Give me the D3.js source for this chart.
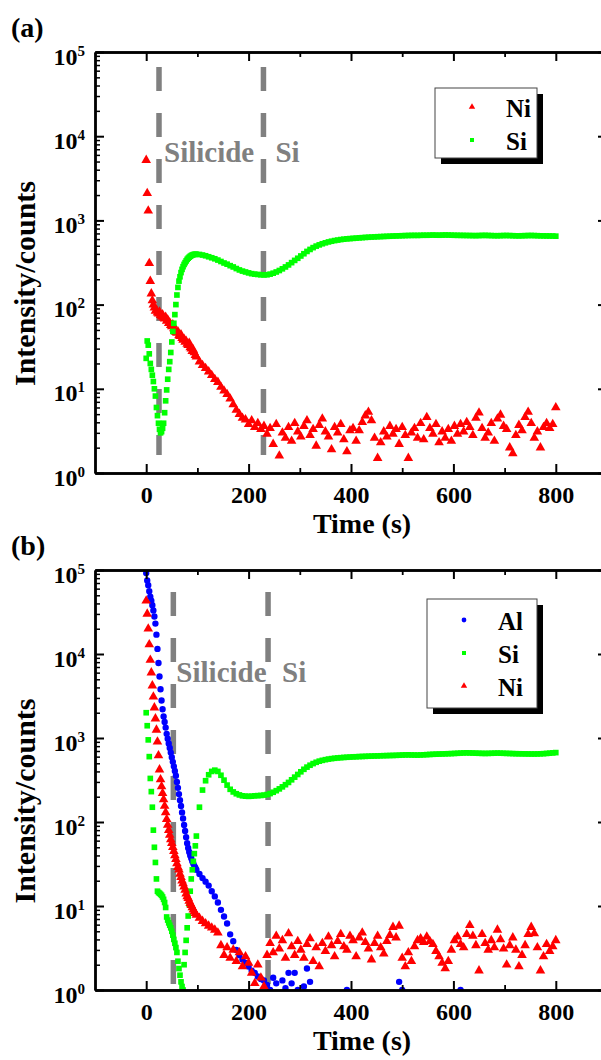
<!DOCTYPE html>
<html>
<head>
<meta charset="utf-8">
<script src="https://cdn.jsdelivr.net/npm/d3@7"></script>
<style>
  body { margin: 0; background: #fff; }
  svg text { font-family: "Liberation Serif", "Times New Roman", serif; font-weight: bold; }
</style>
</head>
<body>
<svg id="chart" width="601" height="1060"></svg>
<script>
// sample times (s): 2 s steps at the start, 6 s afterwards
var timeEarly = d3.range(0, 100, 2);
var timeLate = d3.range(104, 801, 6);
var times = timeEarly.concat(timeLate);

var xTicks = [0, 200, 400, 600, 800];
var xMinorTicks = [100, 300, 500, 700];
var yTicks = [1, 10, 100, 1000, 10000, 100000];

// ---- panel (a) ----
var niA = [5200, 2100, 1300, 310, 190, 135, 112, 100, 92, 84,
  86, 80, 78, 82, 75, 72, 76, 70, 68, 71,
  64, 66, 60, 61, 57, 55, 58, 52, 50, 47,
  46, 48, 43, 42, 44, 40, 38, 39, 36, 37,
  34, 33, 35, 31, 30, 28, 29, 27, 25, 24,
  21, 19, 17.5, 16, 14.5, 13, 12, 10.5, 9.5, 8.6,
  7.6, 6.5, 5.6, 5.0, 4.5, 4.3, 3.8, 4.2, 3.5, 3.9,
  3.3, 3.6, 2.9, 3.4, 2.2, 3.8, 1.6, 3.0, 2.6, 3.5,
  2.4, 3.9, 3.1, 2.7, 3.6, 4.2, 2.8, 3.3, 2.1, 3.7,
  4.4, 3.1, 2.7, 1.9, 3.5, 3.0, 3.8, 2.5, 1.8, 3.2,
  3.4, 2.4, 3.2, 4.0, 4.8, 5.3, 4.2, 2.6, 1.5, 2.3,
  3.1, 2.7, 3.6, 2.9, 3.3, 2.2, 3.5, 2.8, 1.5, 3.0,
  3.4, 2.6, 3.9, 2.5, 4.6, 3.4, 2.9, 3.8, 2.3, 3.1,
  2.6, 3.3, 2.4, 3.6, 2.9, 3.8, 3.1, 4.0, 3.5, 2.8,
  4.5, 5.2, 3.4, 2.6, 3.0, 3.9, 2.4, 4.4, 4.9, 3.6,
  3.3, 2.0, 1.7, 2.8, 3.7, 3.2, 4.6, 5.3, 3.9, 2.6,
  3.1, 2.0, 3.5, 3.9, 3.4, 3.8, 6.0];
var siA = [23, 37, 33, 26, 20, 17, 14.5, 12.2, 10, 8.2,
  6.0, 4.8, 3.9, 3.3, 3.0, 3.1, 3.4, 3.9, 5.2, 7.2,
  9.7, 13, 17, 21, 27, 36, 48, 60, 76, 100,
  130, 160, 190, 214, 240, 262, 282, 300, 315, 330,
  345, 356, 366, 375, 382, 388, 392, 395, 396, 396,
  394, 388, 380, 370, 360, 350, 338, 325, 312, 302,
  290, 280, 268, 258, 250, 244, 238, 233, 230, 228,
  226, 225, 226, 230, 236, 244, 254, 266, 280, 296,
  315, 335, 355, 378, 402, 428, 452, 475, 495, 512,
  528, 542, 555, 566, 576, 584, 592, 598, 604, 608,
  612, 616, 620, 624, 628, 631, 634, 637, 640, 642,
  645, 647, 649, 652, 654, 656, 658, 660, 662, 663,
  664, 663, 665, 667, 666, 668, 670, 668, 667, 669,
  671, 670, 668, 666, 665, 664, 663, 662, 661, 660,
  659, 661, 663, 664, 662, 660, 658, 657, 659, 661,
  662, 660, 658, 656, 655, 657, 659, 661, 662, 660,
  658, 656, 655, 654, 653, 652, 650];
var boundariesA = [25, 229];

// ---- panel (b) ----
var alB = [92000, 75000, 66000, 56000, 48000, 43000, 38000, 33000, 28000, 23000,
  17000, 11500, 7800, 5400, 3800, 2800, 2200, 1800, 1550, 1330,
  1120, 980, 860, 760, 670, 590, 520, 460, 405, 355,
  300, 255, 215, 182, 155, 130, 110, 92, 78, 66,
  56, 49, 44, 40, 37, 34, 32, 30, 28.5, 27,
  24, 21.5, 19.5, 17.5, 15, 13, 11, 9, 7.5, 6.2,
  4.6, 3.8, 3.0, 2.6, 2.3, 2.1, 1.9, 1.7, 1.6, 1.45,
  1.35, 1.3, 1.15, 1.0, 1.4, 1.2, 0.9, 1.3, 1.05, 1.6,
  1.2, 1.6, 1.0, 0.8, 1.1, 1.8, 1.25, 0.8, 0.7, 0.6,
  0.5, 0.6, 0.5, 0.5, 0.6, 0.5, 0.5, 0.6, 1.0, 0.5,
  0.5, 0.5, 0.5, 0.5, 0.5, 0.5, 0.5, 0.5, 0.5, 0.5,
  0.5, 0.5, 0.5, 0.6, 0.5, 1.25, 1.0, 0.5, 0.5, 0.5,
  0.5, 0.5, 0.5, 0.5, 0.5, 0.5, 0.5, 0.5, 0.5, 0.5,
  0.5, 0.5, 0.5, 0.5, 0.6, 1.0, 0.5, 0.5, 0.5, 0.5,
  0.5, 0.5, 0.5, 0.5, 0.5, 0.5, 0.5, 0.5, 0.5, 0.5,
  0.5, 0.5, 0.5, 0.5, 0.5, 0.5, 0.5, 0.5, 0.5, 0.5,
  0.5, 0.5, 0.5, 0.5, 0.5, 0.5, 0.5];
var siB = [2000, 1400, 950, 600, 330, 230, 150, 80, 50, 33,
  21, 15, 14.5, 14.2, 13.8, 13.4, 12.8, 12, 11, 9.6,
  7.4, 6.8, 6.3, 5.9, 5.5, 5.0, 4.5, 4.0, 3.6, 3.2,
  2.8, 2.2, 1.8, 1.5, 1.25, 1.1, 1.0, 2.0, 2.8, 3.9,
  5.5, 7.6, 10.5, 15, 21, 27, 34, 42, 52, 68,
  150, 240, 310, 365, 400, 414, 400, 360, 315, 275,
  245, 228, 217, 210, 205, 203, 202, 203, 205, 206,
  207, 209, 212, 218, 226, 236, 248, 262, 278, 296,
  318, 342, 368, 396, 424, 450, 474, 496, 514, 530,
  542, 552, 561, 568, 574, 579, 583, 587, 590, 593,
  596, 598, 601, 603, 605, 607, 609, 611, 612, 614,
  616, 617, 619, 620, 622, 624, 627, 629, 630, 628,
  627, 626, 628, 631, 634, 637, 640, 642, 644, 646,
  648, 650, 652, 655, 658, 661, 664, 666, 664, 662,
  660, 658, 656, 655, 656, 658, 660, 662, 660, 658,
  656, 654, 652, 650, 649, 648, 647, 646, 645, 645,
  646, 648, 651, 655, 660, 665, 670];
var niB = [43000, 30000, 20000, 13000, 8500, 6000, 4200, 3100, 2300, 1700,
  1250, 900, 620, 420, 320, 265, 220, 185, 155, 130,
  108, 92, 80, 70, 62, 56, 50, 45, 40, 36,
  32, 29, 27, 24, 22, 20, 18.5, 17, 15.5, 14,
  13, 12.4, 11.5, 10.8, 10.2, 9.6, 9.0, 8.6, 8.2, 7.8,
  7.2, 6.6, 6.2, 5.8, 5.5, 5.2, 4.8, 3.4, 2.6, 3.2,
  2.4, 3.0, 2.2, 2.8, 1.9, 2.5, 2.1, 1.6, 1.2, 2.0,
  1.4, 1.1, 2.6, 3.6, 2.8, 4.4, 3.1, 3.9, 2.4, 4.7,
  3.3, 2.6, 3.8, 3.0, 2.4, 3.5, 4.1, 2.2, 3.2, 1.9,
  3.6, 2.9, 4.3, 3.4, 2.5, 3.8, 4.6, 3.3, 3.0, 4.4,
  3.9, 2.5, 4.2, 4.8, 3.7, 3.1, 2.3, 3.6, 4.4, 3.2,
  2.7, 3.8, 4.5, 5.6, 4.2, 5.8, 2.4, 1.9, 2.8, 2.2,
  3.3, 3.9, 4.1, 3.7, 4.3, 3.8, 3.5, 2.9, 2.5, 2.1,
  1.8, 2.2, 3.0, 3.9, 4.3, 3.5, 3.2, 4.6, 5.9, 4.4,
  3.4, 1.7, 4.6, 3.6, 3.0, 3.9, 3.2, 5.2, 4.0, 3.1,
  2.0, 3.4, 4.2, 3.0, 1.9, 2.6, 3.4, 4.6, 5.6, 4.7,
  3.2, 1.7, 2.5, 3.5, 2.9, 3.3, 3.9];
var boundariesB = [53, 238];

var regionLabels = ["Silicide", "Si"];

var svg = d3.select("#chart");
var x = d3.scaleLinear().domain([-100, 900]).range([95, 607]);

var styles = {
  Ni: { color: "#ff0000", type: d3.symbolTriangle, size: 40, legendSize: 18 },
  Si: { color: "#00ff00", type: d3.symbolSquare, size: 32, legendSize: 16 },
  Al: { color: "#0000ff", type: d3.symbolCircle, size: 32, legendSize: 18 }
};

var panels = [
  { id: "a", label: "(a)", top: 52, bottom: 473,
    series: [["Ni", niA], ["Si", siA]], drawOrder: ["Ni", "Si"],
    bounds: boundariesA, dashTop: 15, dashBottom: 18, textY: 110, labelDx: [5, 12],
    legend: { x: 435, y: 88, w: 102, h: 70, rowY: 19, rowH: 33 } },
  { id: "b", label: "(b)", top: 570, bottom: 990,
    series: [["Al", alB], ["Si", siB], ["Ni", niB]], drawOrder: ["Al", "Si", "Ni"],
    bounds: boundariesB, dashTop: 22, dashBottom: 6, textY: 112, labelDx: [3, 14],
    legend: { x: 427, y: 599, w: 110, h: 109, rowY: 21, rowH: 33 } }
];

panels.forEach(drawPanel);

function drawPanel(p) {
  var y = d3.scaleLog().domain([1, 1e5]).range([p.bottom, p.top]);
  var g = svg.append("g");

  g.append("clipPath").attr("id", "clip-" + p.id)
    .append("rect")
      .attr("x", x.range()[0]).attr("y", p.top)
      .attr("width", x.range()[1] - x.range()[0]).attr("height", p.bottom - p.top);

  // boundary dashed lines
  g.selectAll(".bound").data(p.bounds).enter().append("line")
    .attr("x1", function(d) { return x(d); })
    .attr("x2", function(d) { return x(d); })
    .attr("y1", p.top + p.dashTop)
    .attr("y2", p.bottom - p.dashBottom)
    .attr("stroke", "#808080")
    .attr("stroke-width", 5.5)
    .attr("stroke-dasharray", "24,22");

  // region labels
  g.selectAll(".region").data(regionLabels).enter().append("text")
    .attr("x", function(d, i) { return x(p.bounds[i]) + p.labelDx[i]; })
    .attr("y", p.top + p.textY)
    .attr("fill", "#808080")
    .attr("font-size", 29)
    .text(function(d) { return d; });

  // markers
  var marks = g.append("g").attr("clip-path", "url(#clip-" + p.id + ")");
  p.drawOrder.forEach(function(name) {
    var vals = p.series.find(function(s) { return s[0] === name; })[1];
    var st = styles[name];
    var pts = times.map(function(t, i) { return { t: t, v: vals[i] }; })
      .filter(function(d) { return d.v > 0; });
    marks.selectAll(".m-" + name).data(pts).enter().append("path")
      .attr("d", d3.symbol().type(st.type).size(st.size))
      .attr("transform", function(d) { return "translate(" + x(d.t) + "," + y(d.v) + ")"; })
      .attr("fill", st.color);
  });

  // axes
  var minorY = [];
  [1, 10, 100, 1000, 10000].forEach(function(dec) {
    for (var k = 2; k <= 9; k++) minorY.push(dec * k);
  });

  function styleAxis(sel, w) {
    sel.attr("font-family", null);
    sel.select(".domain").attr("stroke", "#000").attr("stroke-width", 2.4);
    sel.selectAll(".tick line").attr("stroke", "#000").attr("stroke-width", w);
  }

  var gx = g.append("g").attr("transform", "translate(0," + p.bottom + ")")
    .call(d3.axisBottom(x).tickValues(xTicks).tickSizeInner(-9).tickSizeOuter(0).tickPadding(13));
  gx.attr("font-size", 24);
  styleAxis(gx, 2);
  g.append("g").attr("transform", "translate(0," + p.bottom + ")")
    .call(d3.axisBottom(x).tickValues(xMinorTicks).tickSizeInner(-5).tickSizeOuter(0).tickFormat(""))
    .call(styleAxis, 1.8);

  var gt = g.append("g").attr("transform", "translate(0," + p.top + ")")
    .call(d3.axisTop(x).tickValues(xTicks).tickSizeInner(-9).tickSizeOuter(0).tickFormat(""));
  styleAxis(gt, 2);
  g.append("g").attr("transform", "translate(0," + p.top + ")")
    .call(d3.axisTop(x).tickValues(xMinorTicks).tickSizeInner(-5).tickSizeOuter(0).tickFormat(""))
    .call(styleAxis, 1.8);

  var gy = g.append("g").attr("transform", "translate(" + x.range()[0] + ",0)")
    .call(d3.axisLeft(y).tickValues(yTicks).tickSizeInner(-9).tickSizeOuter(0));
  gy.attr("font-size", 24);
  styleAxis(gy, 2);
  gy.selectAll(".tick text").each(function(d) {
    var t = d3.select(this).text(null).attr("x", -10).attr("dy", 12).attr("text-anchor", "end");
    t.append("tspan").text("10");
    t.append("tspan").attr("dy", -9).attr("font-size", 15).text(Math.round(Math.log10(d)));
  });
  g.append("g").attr("transform", "translate(" + x.range()[0] + ",0)")
    .call(d3.axisLeft(y).tickValues(minorY).tickSizeInner(-5).tickSizeOuter(0).tickFormat(""))
    .call(styleAxis, 1.5);

  g.append("g").attr("transform", "translate(" + x.range()[1] + ",0)")
    .call(d3.axisRight(y).tickValues(yTicks).tickSizeInner(-9).tickSizeOuter(0).tickFormat(""))
    .call(styleAxis, 2);

  // axis titles
  g.append("text")
    .attr("x", 362).attr("y", p.bottom + 60)
    .attr("text-anchor", "middle")
    .attr("font-size", 28)
    .text("Time (s)");
  g.append("text")
    .attr("transform", "translate(35," + ((p.top + p.bottom) / 2 + 21) + ") rotate(-90)")
    .attr("text-anchor", "middle")
    .attr("font-size", 30)
    .text("Intensity/counts");

  // panel letter
  g.append("text")
    .attr("x", 11).attr("y", p.top - 15)
    .attr("font-size", 28)
    .text(p.label);

  // legend
  var L = p.legend;
  var lg = g.append("g");
  lg.append("rect").attr("x", L.x + 6).attr("y", L.y + 6).attr("width", L.w).attr("height", L.h).attr("fill", "#000");
  lg.append("rect").attr("x", L.x).attr("y", L.y).attr("width", L.w).attr("height", L.h)
    .attr("fill", "#fff").attr("stroke", "#444").attr("stroke-width", 1);
  p.series.forEach(function(s, i) {
    var st = styles[s[0]];
    var cy = L.y + L.rowY + i * L.rowH;
    lg.append("path")
      .attr("d", d3.symbol().type(st.type).size(st.legendSize))
      .attr("transform", "translate(" + (L.x + 37) + "," + cy + ")")
      .attr("fill", st.color);
    lg.append("text")
      .attr("x", L.x + 71).attr("y", cy + 10)
      .attr("font-size", 25)
      .text(s[0]);
  });
}
</script>
</body>
</html>
